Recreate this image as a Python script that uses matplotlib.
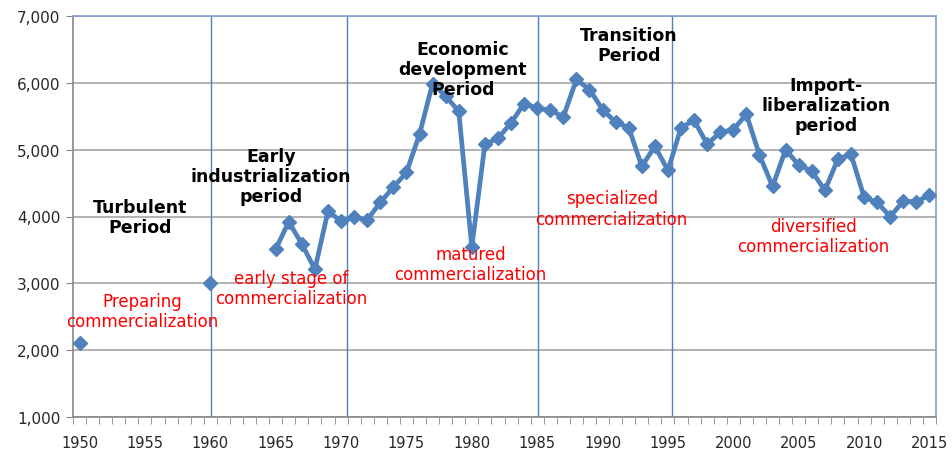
import matplotlib
matplotlib.use("Agg")
import matplotlib.pyplot as plt
import numpy as np

plt.rcParams['font.family'] = ['DejaVu Sans']

years = list(range(1950, 2016))
known = {
    1950: 2100, 1960: 3000,
    1965: 3510, 1966: 3920, 1967: 3590, 1968: 3210, 1969: 4080,
    1970: 3930, 1971: 3990, 1972: 3950, 1973: 4210, 1974: 4440,
    1975: 4660, 1976: 5230, 1977: 5990, 1978: 5800, 1979: 5575,
    1980: 3540, 1981: 5080, 1982: 5170, 1983: 5400, 1984: 5690,
    1985: 5620, 1986: 5590, 1987: 5490, 1988: 6050, 1989: 5900,
    1990: 5600, 1991: 5410, 1992: 5330, 1993: 4750, 1994: 5050,
    1995: 4690, 1996: 5330, 1997: 5440, 1998: 5080, 1999: 5260,
    2000: 5300, 2001: 5530, 2002: 4920, 2003: 4450, 2004: 5000,
    2005: 4770, 2006: 4680, 2007: 4390, 2008: 4860, 2009: 4930,
    2010: 4290, 2011: 4210, 2012: 4000, 2013: 4230, 2014: 4220,
    2015: 4320,
}
values = [known.get(y, np.nan) for y in years]
period_lines = [1960.05, 1970.45, 1985.05, 1995.3]
x_tick_labels = list(range(1950, 2016, 5))
y_ticks = [1000, 2000, 3000, 4000, 5000, 6000, 7000]

periods = [
    ("Turbulent\nPeriod", 1954.66, 3990),
    ("Early\nindustrialization\nperiod", 1964.65, 4608),
    ("Economic\ndevelopment\nPeriod", 1979.3, 6210),
    ("Transition\nPeriod", 1992.0, 6569),
    ("Import-\nliberalization\nperiod", 2007.1, 5671),
]
stages = [
    ("Preparing\ncommercialization", 1954.8, 2587),
    ("early stage of\ncommercialization", 1966.2, 2931),
    ("matured\ncommercialization", 1979.9, 3283),
    ("specialized\ncommercialization", 1990.7, 4120),
    ("diversified\ncommercialization", 2006.1, 3710),
]

blue = '#4F81BD'
fig = plt.figure(figsize=(9.52, 4.52), dpi=100)
ax = fig.add_axes([73/952, 1 - 418/452, (936 - 73)/952, (418 - 17)/452])

ax.set_xlim(1949.5, 2015.5)
ax.set_ylim(1000, 7000)

for yv in y_ticks:
    ax.axhline(yv, color='#A6A6A6', lw=1.2, zorder=1)
for xv in period_lines:
    ax.axvline(xv, color=blue, lw=1.0, zorder=2)

ax.plot(years, values, color=blue, lw=3.4, marker='D', ms=7.5,
        markerfacecolor=blue, markeredgecolor=blue, zorder=3)

for txt, x, y in periods:
    ax.text(x, y, txt, ha='center', va='center', fontsize=12.5,
            fontweight='bold', color='black', linespacing=1.15, zorder=4)
for txt, x, y in stages:
    ax.text(x, y, txt, ha='center', va='center', fontsize=12,
            color='#FF0000', linespacing=1.15, zorder=4)

ax.set_yticks(y_ticks)
ax.set_yticklabels([f"{v:,}" for v in y_ticks], fontsize=11, color='#262626')
ax.set_xticks(x_tick_labels)
ax.set_xticklabels([str(v) for v in x_tick_labels], fontsize=10.5, color='#262626')
ax.set_xticks(np.arange(1949.5, 2016, 1.0), minor=True)
ax.tick_params(axis='x', which='major', length=0, pad=13)
ax.tick_params(axis='x', which='minor', length=5, color='#888888', direction='out')
ax.tick_params(axis='y', length=5, color='#888888', pad=4)

for s in ['left', 'bottom']:
    ax.spines[s].set_color('#888888')
    ax.spines[s].set_linewidth(1.2)
for s in ['top', 'right']:
    ax.spines[s].set_color('#7F9FD0')
    ax.spines[s].set_linewidth(1.2)

fig.savefig('out.png', dpi=100, facecolor='white')
